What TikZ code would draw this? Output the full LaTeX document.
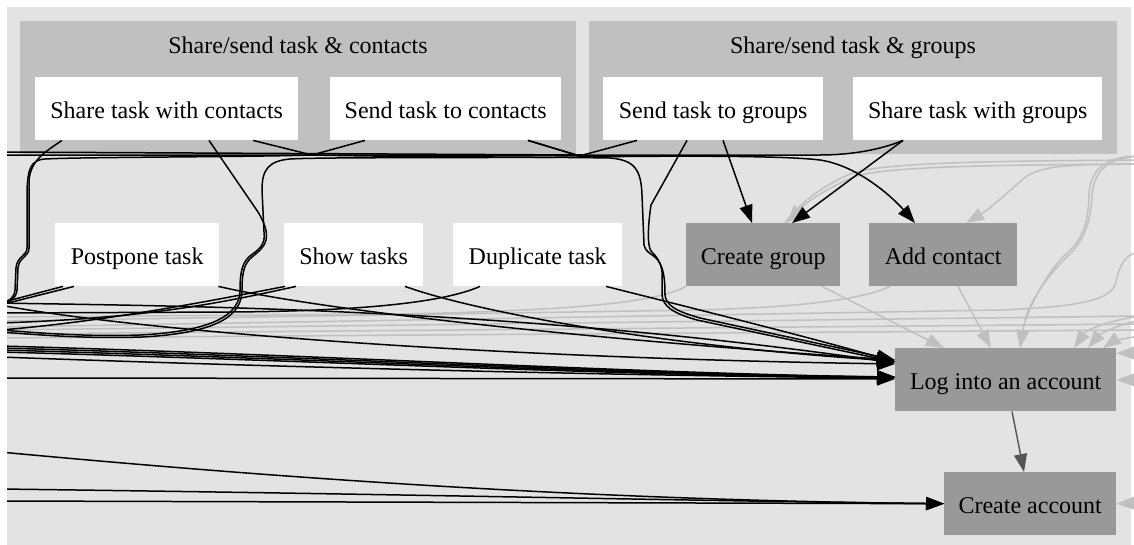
\documentclass[tikz,border=0pt]{standalone}
\usepackage{fontspec}
\setmainfont{Liberation Serif}
\usetikzlibrary{arrows.meta}
\definecolor{outerbg}{HTML}{E3E3E3}
\definecolor{clusterbg}{HTML}{C0C0C0}
\definecolor{darknode}{HTML}{999999}
\definecolor{fadededge}{HTML}{C0C0C0}
\definecolor{linkedge}{HTML}{555555}
\begin{document}
\begin{tikzpicture}[x=1pt,y=-1pt,
  every node/.style={font=\fontsize{24}{28}\selectfont, text=black,
    text height=21pt, text depth=2pt},
  plain/.style={fill=white, minimum height=63pt, inner sep=0pt, anchor=north west},
  dark/.style={fill=darknode, minimum height=63pt, inner sep=0pt, anchor=north west},
  blk/.style={draw=black, line width=1.5pt},
  gry/.style={draw=fadededge, line width=1.5pt},
  lnk/.style={draw=linkedge, line width=1.4pt},
  arr/.style={-{Triangle[length=18pt,width=13pt]}},
]
\useasboundingbox (0,0) rectangle (1134,544);

% cluster backgrounds
\fill[outerbg] (7,7) rectangle (1131,560);
\fill[clusterbg] (20,21) rectangle (576,154);
\fill[clusterbg] (589,21) rectangle (1117,154);
\node[inner sep=0pt] (t1) at (298,43.5) {Share/send task \& contacts};
\node[inner sep=0pt] (t2) at (853,43.5) {Share/send task \& groups};

% nodes
\node[plain, minimum width=263pt] (sc)  at (35,77)  {Share task with contacts};
\node[plain, minimum width=231pt] (stc) at (330,77) {Send task to contacts};
\node[plain, minimum width=220pt] (stg) at (603,77) {Send task to groups};
\node[plain, minimum width=249pt] (swg) at (853,77) {Share task with groups};
\node[plain, minimum width=164pt] (pt)  at (55,223)  {Postpone task};
\node[plain, minimum width=139pt] (st)  at (284,223) {Show tasks};
\node[plain, minimum width=169pt] (dt)  at (453,223) {Duplicate task};
\node[dark,  minimum width=154pt] (cg)  at (686,223) {Create group};
\node[dark,  minimum width=148pt] (ac)  at (869,223) {Add contact};
\node[dark,  minimum width=221pt] (log) at (895,348) {Log into an account};
\node[dark,  minimum width=172pt] (ca)  at (944,472) {Create account};

\begin{scope}
\clip (7,0) rectangle (1134,544);

% free ends beyond the left border
\coordinate (wTopA) at (0,152);
\coordinate (wTopB) at (0,155);
\coordinate (wL303) at (0,303);
\coordinate (wL305) at (0,305);
\coordinate (wL313) at (0,313);
\coordinate (wL317) at (0,317);
\coordinate (wL321) at (0,321);
\coordinate (wL323) at (0,323);
\coordinate (wL327) at (0,327);
\coordinate (wL330) at (0,330);
\coordinate (wL332) at (0,332);
\coordinate (wL334) at (0,334);
\coordinate (wL338) at (0,338);
\coordinate (wL346) at (0,346);
\coordinate (wL348) at (0,348);
\coordinate (wL350) at (0,350);
\coordinate (wL352) at (0,352);
\coordinate (wL357) at (0,357);
\coordinate (wL378) at (0,378);
\coordinate (wL452) at (0,452);
\coordinate (wL489) at (0,489);
\coordinate (wL501) at (0,501);
% free ends beyond the right border
\coordinate (eR156) at (1140,156);
\coordinate (eR160) at (1140,160);
\coordinate (eR164) at (1140,164);
\coordinate (eR252) at (1140,252);
\coordinate (eR316) at (1140,316);
\coordinate (eR320) at (1140,320);
\coordinate (eR324) at (1140,324);
\coordinate (eR330) at (1140,330);
\coordinate (eR336) at (1140,336);
\coordinate (eR352) at (1140,353);
\coordinate (eR380) at (1140,380);
\coordinate (eR503) at (1140,503);

% faded edges
\draw[gry] (eR160) .. controls (1000,161) and (880,162) .. (850,174) .. controls (820,187) and (798,205) .. ([xshift=99pt]cg.north west);
\draw[gry,arr] (eR164) .. controls (1000,165) and (884,166) .. (854,177) .. controls (822,190) and (802,206) .. ([xshift=101pt]cg.north west);
\draw[gry,arr] (eR164) .. controls (1080,165) and (1040,163) .. (1022,180) .. controls (1004,196) and (988,210) .. ([xshift=97pt]ac.north west);
\draw[gry,arr] (eR156) .. controls (1112,156) and (1090,165) .. (1089,195) .. controls (1088,232) and (1078,243) .. (1066,254) .. controls (1050,268) and (1026,310) .. ([xshift=125pt]log.north west);
\draw[gry] (eR156) .. controls (1110,158) and (1094,168) .. (1092,196) .. controls (1090,230) and (1080,244) .. (1068,256) .. controls (1052,270) and (1030,300) .. (1025,320);
\draw[gry,arr] ([xshift=136pt]cg.south west) -- ([xshift=49pt]log.north west);
\draw[gry,arr] ([xshift=89pt]ac.south west) -- ([xshift=96pt]log.north west);
\draw[gry] (cg.south west) .. controls (660,300) and (600,310) .. (400,314) -- (wL317);
\draw[gry] ([xshift=21pt]ac.south west) .. controls (860,300) and (800,307) .. (700,310) -- (wL321);
\draw[gry] (eR252) .. controls (1122,254) and (1119,270) .. (1115,285) .. controls (1108,302) and (1070,307) .. (1000,310) -- (wL327);
\draw[gry] (eR316) -- (wL330);
\draw[gry] (eR324) -- (wL334);
\draw[gry] (eR330) -- (wL338);
\draw[gry,arr] (eR316) .. controls (1100,322) and (1085,332) .. ([xshift=179pt]log.north west);
\draw[gry,arr] (eR320) .. controls (1110,327) and (1098,336) .. ([xshift=193pt]log.north west);
\draw[gry,arr] (eR336) .. controls (1125,338) and (1112,342) .. ([xshift=208pt]log.north west);
\draw[gry,arr] (eR352) -- ([yshift=-5pt]log.north east);
\draw[gry,arr] (eR380) -- (log.east);
\draw[gry,arr] (eR503) -- (ca.east);

% top bundle and brackets
\draw[blk] ([xshift=34pt]stg.south west) -- (583,155) -- (wTopA);
\draw[blk] ([xshift=50pt]swg.south west) .. controls (880,150) and (850,155) .. (820,155) -- (wTopB);
\draw[blk] ([xshift=35pt]stc.south west) -- (312,155) .. controls (250,157) and (80,157) .. (45,159) .. controls (30,160) and (28,170) .. (27,190) -- (27,248) .. controls (27,256) and (17,256) .. (16,268) -- (15,290) .. controls (14,298) and (10,301) .. (wL303);
\draw[blk] ([xshift=27pt]sc.south west) .. controls (45,152) and (31,160) .. (29,180) -- (29,248) .. controls (29,257) and (19,257) .. (18,268) -- (17,290) .. controls (16,299) and (10,302) .. (wL305);
\draw[blk,arr] ([xshift=218pt]sc.south west) -- (312,155) .. controls (400,157) and (560,157) .. (610,158) .. controls (635,160) and (641,170) .. (642,195) -- (644,245) .. controls (645,252) and (652,254) .. (656,258) .. controls (664,266) and (665,280) .. (665,295) .. controls (666,305) and (675,311) .. (700,318) -- ([yshift=-12pt]log.north west);
\draw[blk,arr] ([xshift=84pt]stg.south west) -- (651,205) .. controls (648,225) and (647,245) .. (651,251) .. controls (656,256) and (661,262) .. (662,272) -- (662,295) .. controls (663,306) and (672,313) .. (697,320) -- ([yshift=-14pt]log.north west);
\draw[blk] ([xshift=198pt]stc.south west) -- (583,157) .. controls (500,158) and (320,157) .. (290,159) .. controls (268,161) and (262,170) .. (262,190) -- (264,232) .. controls (266,245) and (258,250) .. (250,256) .. controls (243,262) and (240,270) .. (240,290) .. controls (240,314) and (215,331) .. (140,335) .. controls (80,337) and (30,332) .. (wL330);
\draw[blk] ([xshift=174pt]sc.south west) -- (258,212) .. controls (264,222) and (268,232) .. (266,240) .. controls (264,248) and (258,252) .. (252,257) .. controls (245,263) and (242,270) .. (242,290) .. controls (242,316) and (217,333) .. (142,337) .. controls (80,339) and (30,334) .. (wL332);
\draw[blk,arr] ([xshift=198pt]stc.south west) -- (583,157) .. controls (650,156) and (780,155) .. (820,160) .. controls (860,166) and (895,200) .. ([xshift=46pt]ac.north west);
\draw[blk,arr] ([xshift=50pt]swg.south west) -- ([xshift=106pt]cg.north west);
\draw[blk,arr] ([xshift=120pt]stg.south west) -- ([xshift=66pt]cg.north west);

% edges among the lower nodes
\draw[blk] ([xshift=8pt]pt.south west) -- (wL303);
\draw[blk] ([xshift=19pt]pt.south west) -- (wL305);
\draw[blk,arr] ([xshift=-1pt]pt.south east) .. controls (330,312) and (600,340) .. ([yshift=-12pt]log.north west);
\draw[blk] ([xshift=1pt]st.south west) .. controls (200,303) and (100,322) .. (wL330);
\draw[blk] ([xshift=12pt]st.south west) .. controls (220,303) and (150,318) .. (wL323);
\draw[blk,arr] ([xshift=121pt]st.south west) .. controls (470,310) and (650,345) .. ([yshift=-13pt]log.north west);
\draw[blk] ([xshift=27pt]dt.south west) .. controls (440,304) and (350,311) .. (233,312) -- (wL313);
\draw[blk,arr] ([xshift=153pt]dt.south west) .. controls (700,310) and (820,340) .. ([yshift=-14pt]log.north west);
\draw[blk,arr] (wL303) .. controls (150,306) and (500,306) .. ([yshift=-15pt]log.north west);
\draw[blk,arr] (wL305) .. controls (120,328) and (450,357) .. ([yshift=-16pt]log.north west);
\draw[blk,arr] (wL346) .. controls (300,354) and (650,374) .. ([yshift=-29pt]log.north west);
\draw[blk,arr] (wL348) .. controls (300,356) and (650,375) .. ([yshift=-29pt]log.north west);
\draw[blk,arr] (wL350) .. controls (300,358) and (650,376) .. ([yshift=-29pt]log.north west);
\draw[blk,arr] (wL352) .. controls (300,360) and (650,377) .. ([yshift=-29pt]log.north west);
\draw[blk,arr] (wL357) .. controls (300,368) and (650,376) .. ([yshift=-30pt]log.north west);
\draw[blk,arr] (wL378) -- ([yshift=-31pt]log.north west);
\draw[blk,arr] (wL452) .. controls (300,480) and (600,500) .. (ca.west);
\draw[blk,arr] (wL489) .. controls (400,494) and (700,501) .. (ca.west);
\draw[blk,arr] (wL501) -- (ca.west);
\draw[lnk,arr] ([xshift=117pt]log.south west) -- ([xshift=80pt]ca.north west);
\end{scope}
\end{tikzpicture}
\end{document}
